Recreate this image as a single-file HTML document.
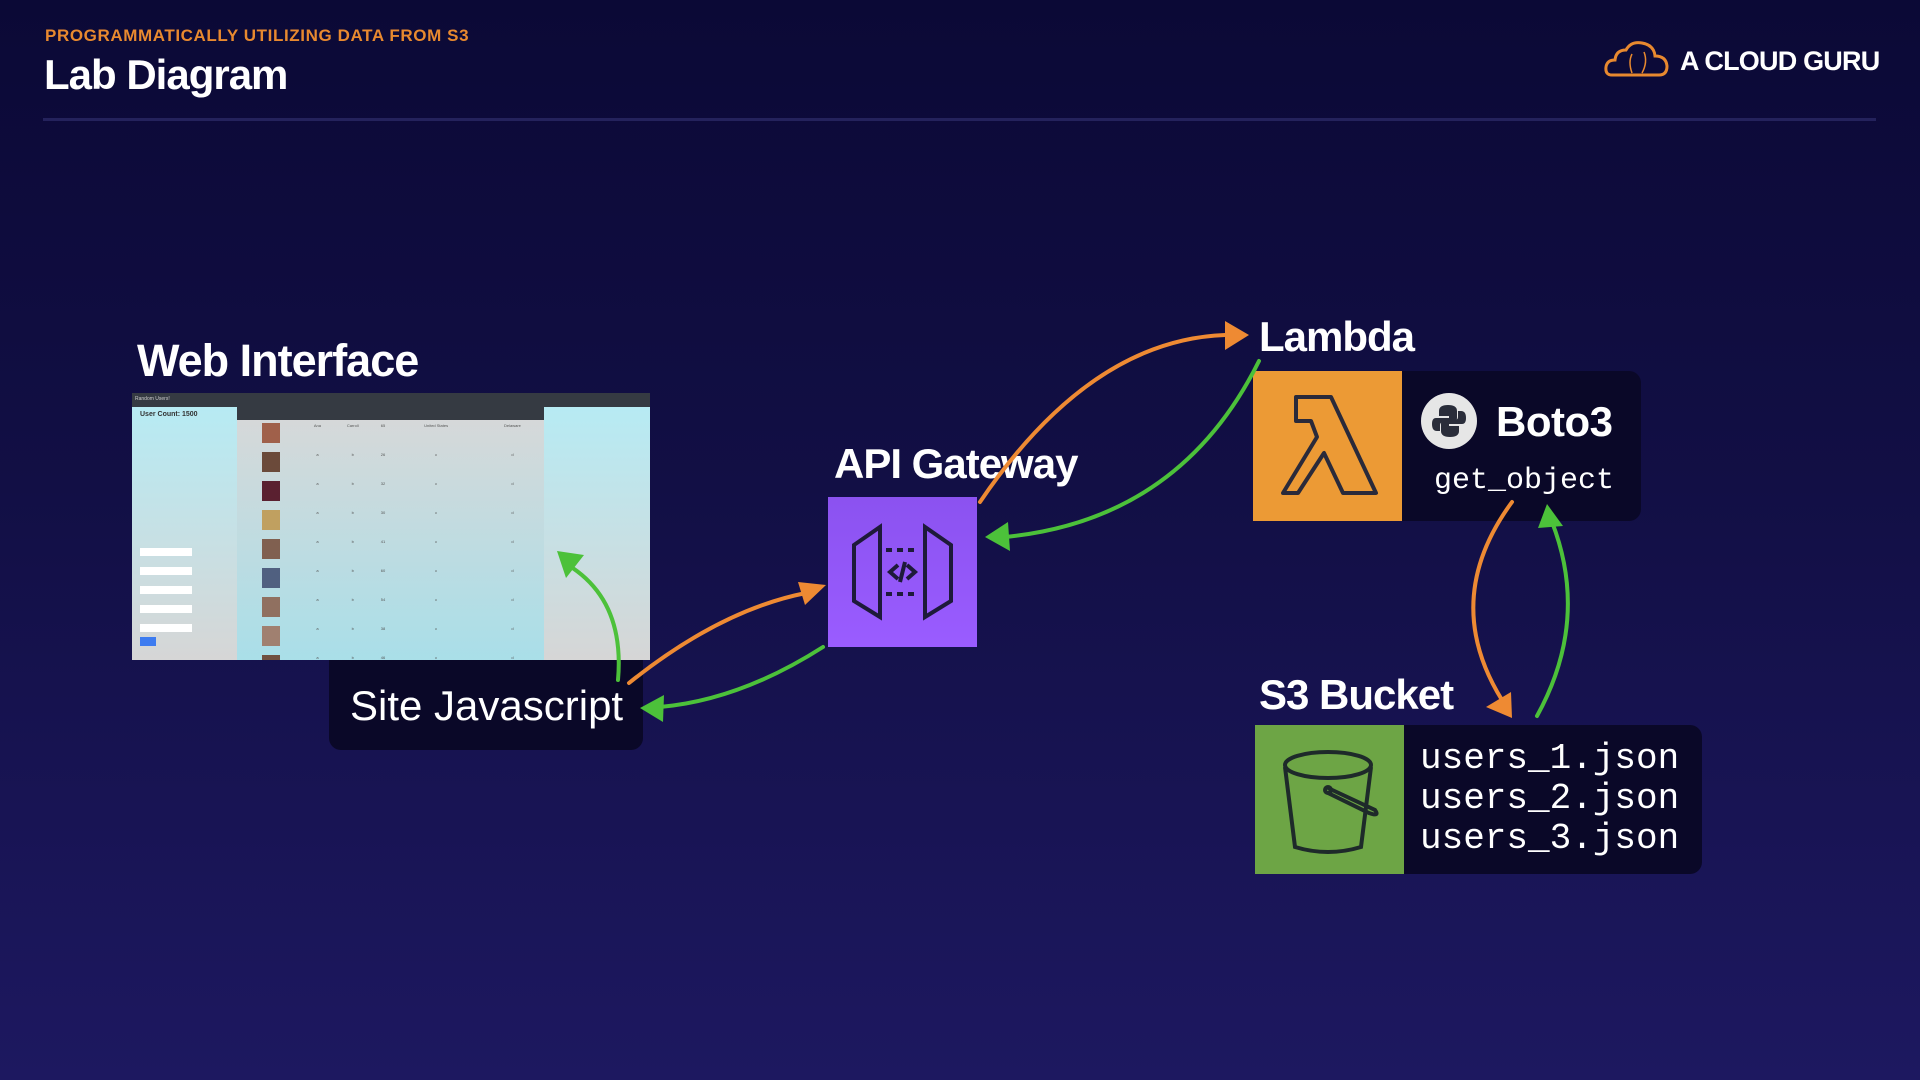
<!DOCTYPE html>
<html><head><meta charset="utf-8"><style>
*{margin:0;padding:0;box-sizing:border-box}
body{width:1920px;height:1080px;overflow:hidden;position:relative;font-family:"Liberation Sans",sans-serif;color:#fff;
background:linear-gradient(180deg,#0b0936 0%,#120f45 45%,#1d1860 100%)}
.a{position:absolute}
.lbl{font-weight:bold;font-size:42px;letter-spacing:-1px;white-space:nowrap;line-height:1}
.mono{font-family:"Liberation Mono",monospace}
.panel{background:#0a0828;border-radius:12px}
td{font-size:4px;color:#555;text-align:center;height:29px;vertical-align:top;padding-top:3px}
</style></head><body>
<div class="a" style="left:45px;top:26px;font-size:17px;font-weight:bold;color:#e8892f;letter-spacing:0.6px">PROGRAMMATICALLY UTILIZING DATA FROM S3</div>
<div class="a lbl" style="left:44px;top:54px;font-size:42px">Lab Diagram</div>
<div class="a" style="left:43px;top:118px;width:1833px;height:3px;background:#24225c"></div>
<svg class="a" style="left:1604px;top:40px" width="66" height="38" viewBox="0 0 66 38"><path d="M8 35 Q1 35 2 27 Q3 20 11 20 Q12 10 22 10 Q27 1 38 3 Q50 5 51 16 Q62 16 63 26 Q63 35 55 35 Z" fill="none" stroke="#e8892f" stroke-width="3"/><path d="M28 14 Q24 22 28 33 M40 12 Q44 22 38 33" stroke="#e8892f" stroke-width="1.5" fill="none"/></svg>
<div class="a lbl" style="left:1680px;top:48px;font-size:27px;letter-spacing:-0.8px">A CLOUD GURU</div>

<div class="a lbl" style="left:137px;top:338px;font-size:45px">Web Interface</div>
<div class="a panel" style="left:329px;top:640px;width:314px;height:110px"></div>
<div class="a" style="left:350px;top:682px;font-size:42px;white-space:nowrap">Site Javascript</div>
<div class="a" style="left:132px;top:393px;width:518px;height:267px;background:linear-gradient(180deg,#b5ecf5,#d6d6d6);overflow:hidden">
 <div style="height:14px;background:#353a42;font-size:5px;color:#ccc;padding:3px">Random Users!</div>
 <div class="a" style="left:8px;top:18px;font-size:7px;color:#333;font-weight:bold">User Count: 1500</div>
 <div class="a" style="left:105px;top:14px;width:307px;height:260px;background:linear-gradient(180deg,#d8d8d8,#a8dfe9)">
  <div style="height:13px;background:#353a42"></div>
  <table style="width:100%;border-collapse:collapse">
   <tr><td><div style="width:18px;height:20px;background:#a0604a;margin:auto"></div></td><td>Ana</td><td>Carroll</td><td>65</td><td>United States</td><td>Delaware</td></tr>
   <tr><td><div style="width:18px;height:20px;background:#6b4a3a;margin:auto"></div></td><td>a</td><td>b</td><td>26</td><td>c</td><td>d</td></tr>
   <tr><td><div style="width:18px;height:20px;background:#5a2030;margin:auto"></div></td><td>a</td><td>b</td><td>32</td><td>c</td><td>d</td></tr>
   <tr><td><div style="width:18px;height:20px;background:#c0a060;margin:auto"></div></td><td>a</td><td>b</td><td>30</td><td>c</td><td>d</td></tr>
   <tr><td><div style="width:18px;height:20px;background:#806050;margin:auto"></div></td><td>a</td><td>b</td><td>41</td><td>c</td><td>d</td></tr>
   <tr><td><div style="width:18px;height:20px;background:#506080;margin:auto"></div></td><td>a</td><td>b</td><td>60</td><td>c</td><td>d</td></tr>
   <tr><td><div style="width:18px;height:20px;background:#907060;margin:auto"></div></td><td>a</td><td>b</td><td>54</td><td>c</td><td>d</td></tr>
   <tr><td><div style="width:18px;height:20px;background:#a08070;margin:auto"></div></td><td>a</td><td>b</td><td>38</td><td>c</td><td>d</td></tr>
   <tr><td><div style="width:18px;height:20px;background:#705040;margin:auto"></div></td><td>a</td><td>b</td><td>46</td><td>c</td><td>d</td></tr>
  </table>
 </div>
 <div class="a" style="left:8px;top:147px;width:52px;height:95px">
  <div style="height:8px;background:#fff;margin-top:8px"></div><div style="height:8px;background:#fff;margin-top:11px"></div><div style="height:8px;background:#fff;margin-top:11px"></div><div style="height:8px;background:#fff;margin-top:11px"></div><div style="height:8px;background:#fff;margin-top:11px"></div>
  <div style="width:16px;height:9px;background:#3d7cf0;margin-top:5px"></div>
 </div>
</div>

<div class="a lbl" style="left:834px;top:443px">API Gateway</div>
<div class="a" style="left:828px;top:497px;width:149px;height:150px;background:linear-gradient(180deg,#8b52f0,#9a5cff)">
<svg width="149" height="150" viewBox="0 0 149 150"><g fill="none" stroke="#1e1a3a" stroke-width="4"><path d="M26 48 L52 30 L52 120 L26 104 Z"/><path d="M123 48 L97 30 L97 120 L123 104 Z"/><path d="M58 53 H91 M58 97 H91" stroke-dasharray="6 5"/><path d="M70 68 L62 75 L70 82 M79 68 L87 75 L79 82 M77 65 L72 85"/></g></svg></div>

<div class="a lbl" style="left:1259px;top:316px">Lambda</div>
<div class="a panel" style="left:1253px;top:371px;width:388px;height:150px"></div>
<div class="a" style="left:1253px;top:371px;width:149px;height:150px;background:#ec9a35">
<svg width="149" height="150" viewBox="0 0 149 150"><path d="M43 26 H78 L123 122 H90 L71 82 L45 122 H30 L64 66 L58 50 H43 Z" fill="none" stroke="#2a2a3a" stroke-width="4" stroke-linejoin="round"/></svg></div>
<div class="a" style="left:1421px;top:393px;width:56px;height:56px;border-radius:50%;background:#e6e6e6">
<svg width="56" height="56" viewBox="0 0 56 56"><path d="M27 12 Q18 12 18 18 V23 H28 V25 H15 Q11 25 11 31 Q11 38 16 38 H19 V32 Q19 29 23 29 H32 Q36 29 36 25 V18 Q36 12 27 12 Z" fill="#2a2d3a"/><path d="M29 44 Q38 44 38 38 V33 H28 V31 H41 Q45 31 45 25 Q45 18 40 18 H37 V24 Q37 27 33 27 H24 Q20 27 20 31 V38 Q20 44 29 44 Z" fill="#2a2d3a"/></svg></div>
<div class="a lbl" style="left:1496px;top:401px;letter-spacing:-0.5px">Boto3</div>
<div class="a mono" style="left:1434px;top:464px;font-size:30px">get_object</div>

<div class="a lbl" style="left:1259px;top:674px">S3 Bucket</div>
<div class="a panel" style="left:1255px;top:725px;width:447px;height:149px"></div>
<div class="a" style="left:1255px;top:725px;width:149px;height:149px;background:#6da545">
<svg width="149" height="149" viewBox="0 0 149 149"><g fill="none" stroke="#1e2a2a" stroke-width="4"><ellipse cx="73" cy="40" rx="43" ry="13"/><path d="M30 42 L40 122 Q73 132 106 122 L116 42"/><path d="M73 63 L120 85 Q125 92 114 88 L73 68"/><circle cx="73" cy="65" r="3"/></g></svg></div>
<div class="a mono" style="left:1420px;top:739px;font-size:36px;line-height:40px">users_1.json<br>users_2.json<br>users_3.json</div>

<svg class="a" style="left:0;top:0" width="1920" height="1080" viewBox="0 0 1920 1080">
<g fill="none" stroke-width="4" stroke-linecap="round">
<path d="M629 683 Q720 610 806 593" stroke="#ee8a33"/>
<path d="M823 647 Q740 700 660 707" stroke="#4cc13a"/>
<path d="M618 680 Q625 600 568 565" stroke="#4cc13a"/>
<path d="M980 502 Q1090 340 1225 335" stroke="#ee8a33"/>
<path d="M1259 361 Q1180 520 1005 537" stroke="#4cc13a"/>
<path d="M1512 502 Q1440 600 1502 700" stroke="#ee8a33"/>
<path d="M1537 716 Q1590 620 1552 522" stroke="#4cc13a"/>
</g>
<g>
<polygon points="826,585 805,605 798,582" fill="#ee8a33"/>
<polygon points="640,708 664,695 663,722" fill="#4cc13a"/>
<polygon points="557,551 584,555 566,578" fill="#4cc13a"/>
<polygon points="1249,335 1225,321 1225,350" fill="#ee8a33"/>
<polygon points="985,537 1008,522 1010,551" fill="#4cc13a"/>
<polygon points="1512,718 1486,707 1511,692" fill="#ee8a33"/>
<polygon points="1547,504 1563,526 1538,528" fill="#4cc13a"/>
</g></svg>
</body></html>
